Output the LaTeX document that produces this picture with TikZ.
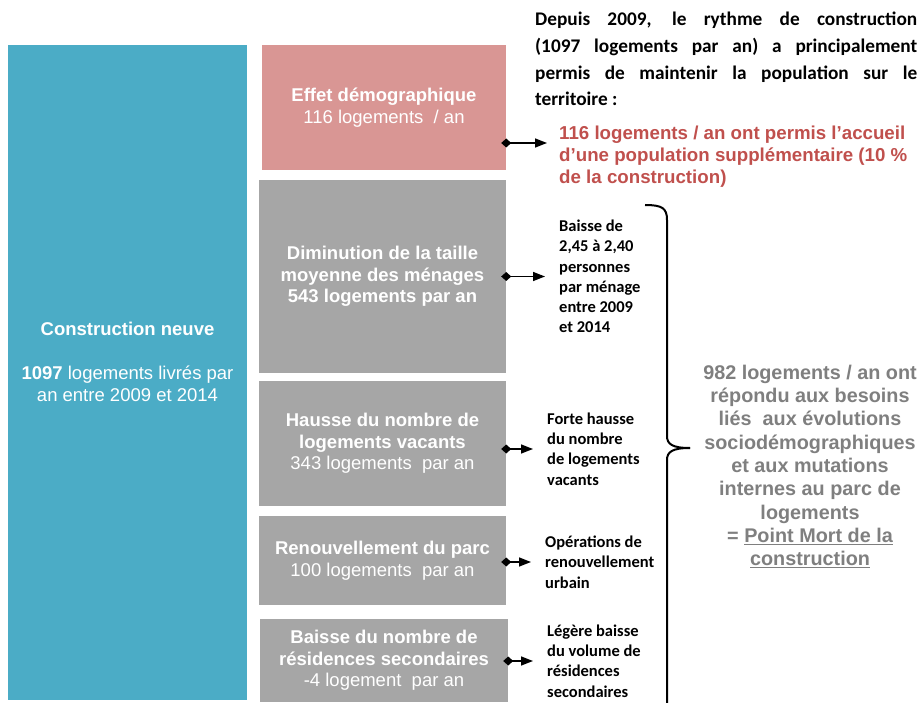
\documentclass[tikz,border=0pt]{standalone}
\usepackage{fontspec}
\setmainfont{Liberation Sans}
\newfontfamily\calibri{Carlito}
\usepackage{tikz}
\usetikzlibrary{arrows.meta}

\definecolor{constr}{HTML}{4BACC6}
\definecolor{demo}{HTML}{D99694}
\definecolor{struct}{HTML}{A6A6A6}
\definecolor{accueil}{HTML}{C0504D}
\definecolor{pmort}{HTML}{7F7F7F}

\tikzset{
  boxtext/.style={text=white, align=center, inner sep=0,
    font=\fontsize{18.5}{21.5}\selectfont},
  box/.style={boxtext, fill=struct},
  note/.style={anchor=west, align=left, inner xsep=14pt, inner ysep=0,
    font=\calibri\bfseries\fontsize{16.5}{20.3}\selectfont},
  link/.style={line width=1.5pt, shorten <=-5pt,
    {Diamond[length=10pt,width=9pt]}-{Triangle[length=12pt,width=9pt]}},
}

\begin{document}
\begin{tikzpicture}[x=1pt, y=-1pt]
\useasboundingbox (0,0) rectangle (921,703);

% Construction neuve
\node [box, fill=constr, minimum width=239pt, minimum height=655pt] (neuve) at (127.5,372.5) {};
\node [boxtext] (neuvetxt) at (127.5,361.5) {\textbf{Construction neuve}\\[23pt]\textbf{1097} logements livrés par\\an entre 2009 et 2014};

% effet demographique
\node [box, fill=demo, minimum width=244pt, minimum height=125pt] (effet) at (384,107.5)
  {\textbf{Effet démographique}\\116 logements~ / an};

% besoins du parc
\node [box, minimum width=247pt, minimum height=193pt] (taille) at (382.5,276.5)
  {\textbf{Diminution de la taille}\\\textbf{moyenne des ménages}\\\textbf{543 logements par an}};
\node [box, minimum width=247pt, minimum height=125pt] (vacants) at (382.5,443.5)
  {\textbf{Hausse du nombre de}\\\textbf{logements vacants}\\343 logements~ par an};
\node [box, minimum width=247pt, minimum height=89pt] (renouv) at (382.5,560.5)
  {\textbf{Renouvellement du parc}\\100 logements~ par an};
\node [box, minimum width=248pt, minimum height=83pt] (second) at (384,660.5)
  {\textbf{Baisse du nombre de}\\\textbf{résidences secondaires}\\-4 logement~ par an};

% intro text
\node [anchor=north west, text width=382pt, align=justify, inner sep=0,
  font=\calibri\bfseries\fontsize{19.3}{26.7}\selectfont] (intro) at (535,12)
  {Depuis 2009, le rythme de construction\linebreak (1097 logements par an) a principalement\linebreak permis de maintenir la population sur le\linebreak territoire~:};

% accueil
\node [anchor=west, align=left, inner sep=0, text=accueil,
  font=\bfseries\fontsize{18.7}{22}\selectfont] (accueil) at (559,157)
  {116 logements / an ont permis l’accueil\\d’une population supplémentaire (10 \%\\de la construction)};
\coordinate (tip) at (547,143);
\draw [link] (effet.east |- tip) -- (tip);

% notes
\node [note] (menage) at (545,276.5) {Baisse de\\2,45 à 2,40\\personnes\\par ménage\\entre 2009\\et 2014};
\node [note] (hausse) at (533,449) {Forte hausse\\du nombre\\de logements\\vacants};
\node [note] (operations) at (531,562) {Opérations de\\renouvellement\\urbain};
\node [note] (legere) at (533,661) {Légère baisse\\du volume de\\résidences\\secondaires};

\draw [link] (taille.east |- menage.west) -- (menage.west);
\draw [link] (vacants.east |- hausse.west) -- (hausse.west);
\draw [link] (renouv.east |- operations.west) -- (operations.west);
\draw [link] (second.east |- legere.west) -- (legere.west);

% brace w/ point mort
\draw [line width=2pt] (645,205) .. controls (662,205) and (667,208) .. (667,220) -- (667,436)
  .. controls (667,444) and (672,448) .. (690,448);
\draw [line width=2pt] (690,448) .. controls (672,448) and (667,452) .. (667,460) -- (667,740);
\node [align=center, inner sep=0, text=pmort, font=\bfseries\fontsize{19.8}{23.3}\selectfont] (pmort) at (810,466.5)
  {982 logements / an ont\\répondu aux besoins\\liés~ aux évolutions\\sociodémographiques\\et aux mutations\\internes au parc de\\logements\\= \underline{Point Mort de la}\\\underline{construction}};

\end{tikzpicture}
\end{document}
